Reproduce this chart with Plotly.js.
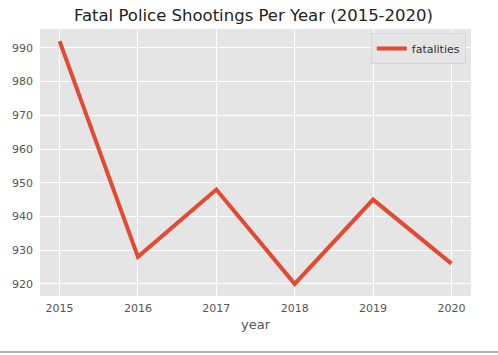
<!DOCTYPE html>
<html>
<head>
<meta charset="utf-8">
<script src="https://cdn.plot.ly/plotly-3.0.1.min.js"></script>
<style>
  html, body { margin: 0; padding: 0; background: #ffffff; }
  #chart { width: 498px; height: 355px; }
</style>
</head>
<body>
<div id="chart"></div>
<script>
const years = [2015, 2016, 2017, 2018, 2019, 2020];
const fatalities = [992, 928, 948, 920, 945, 926];
const seriesName = 'fatalities';
const xTicks = [2015, 2016, 2017, 2018, 2019, 2020];
const yTicks = [920, 930, 940, 950, 960, 970, 980, 990];

const trace = {
  x: years,
  y: fatalities,
  type: 'scatter',
  mode: 'lines',
  name: seriesName,
  line: { color: '#E24A33', width: 4 }
};

const layout = {
  width: 498,
  height: 355,
  paper_bgcolor: '#ffffff',
  plot_bgcolor: '#E5E5E5',
  margin: { l: 40, r: 27, t: 29, b: 59, pad: 0 },
  font: { family: 'DejaVu Sans', size: 11, color: '#555555' },
  title: {
    text: 'Fatal Police Shootings Per Year (2015-2020)',
    font: { family: 'DejaVu Sans', size: 16.5, color: '#222222' },
    x: 0.509, xanchor: 'center', y: 0.958, yanchor: 'middle'
  },
  showlegend: true,
  legend: {
    x: 0.988, xanchor: 'right', y: 0.985, yanchor: 'top',
    bgcolor: '#E5E5E5', bordercolor: '#D6D6D6', borderwidth: 1,
    font: { family: 'DejaVu Sans', size: 11, color: '#333333' }
  },
  xaxis: {
    range: [2014.75, 2020.25],
    tickvals: xTicks,
    ticktext: xTicks.map(String),
    showgrid: true, gridcolor: '#ffffff', gridwidth: 1,
    zeroline: false, showline: false,
    ticks: '', ticklabelstandoff: 4,
    tickfont: { family: 'DejaVu Sans', size: 11, color: '#555555' },
    title: { text: 'year', font: { family: 'DejaVu Sans', size: 13, color: '#555555' }, standoff: 5 }
  },
  yaxis: {
    range: [916.4, 995.6],
    tickvals: yTicks,
    ticktext: yTicks.map(String),
    showgrid: true, gridcolor: '#ffffff', gridwidth: 1,
    zeroline: false, showline: false,
    ticks: '', ticklabelstandoff: 6,
    tickfont: { family: 'DejaVu Sans', size: 11, color: '#555555' }
  },
  shapes: [{
    type: 'line', xref: 'paper', yref: 'paper',
    x0: -0.093, x1: 1.063, y0: -0.21, y1: -0.21,
    line: { color: '#9a9a9a', width: 1.5 }
  }]
};

Plotly.newPlot('chart', [trace], layout, { displayModeBar: false, staticPlot: true });
</script>
</body>
</html>
